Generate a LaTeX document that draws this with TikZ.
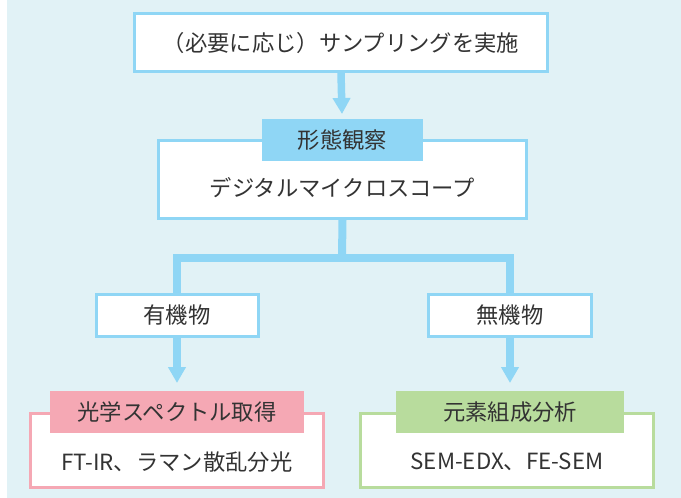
\documentclass[tikz,border=0pt]{standalone}
\usepackage{fontspec}
\setmainfont{Noto Sans CJK JP}
\usetikzlibrary{arrows.meta}
\definecolor{bgc}{HTML}{E1F2F6}
\definecolor{bluec}{HTML}{8FD6F5}
\definecolor{pinkc}{HTML}{F5A8B4}
\definecolor{greenc}{HTML}{B8DC9D}
\definecolor{txtc}{HTML}{333333}
\tikzset{
  box/.style={draw=#1, line width=3pt, fill=white, inner sep=0pt, rectangle},
  tag/.style={fill=#1, inner sep=0pt, rectangle, font=\fontsize{22.3}{25}\selectfont, text=txtc},
  txt/.style={inner sep=0pt, font=\fontsize{22.3}{25}\selectfont, text=txtc},
  conn/.style={draw=bluec, line width=8pt},
  arr/.style={draw=bluec, line width=7.5pt, -{Triangle[width=17pt,length=16pt]}},
}
\begin{document}
\begin{tikzpicture}[x=1pt,y=-1pt]
\useasboundingbox (0,0) rectangle (681,498);
\fill[bgc] (7,0) rectangle (681,498);
% top
\node[box=bluec, minimum width=413pt, minimum height=58pt] (top) at (341,42.5) {};
\node[txt] (toptext) at (341,43) {（必要に応じ）サンプリングを実施};
% main
\node[box=bluec, minimum width=368pt, minimum height=78pt] (main) at (342.5,179.5) {};
\node[tag=bluec, minimum width=161pt, minimum height=42pt] (maintag) at (342.5,140) {形態観察};
\node[txt] (maintext) at (342.5,188) {デジタルマイクロスコープ};
\coordinate (tip0) at (342,114);
\draw[arr] (top.south) -- (tip0);
% branch
\node[box=bluec, minimum width=162pt, minimum height=42pt] (yuki) at (177,315) {};
\node[box=bluec, minimum width=163pt, minimum height=42pt] (muki) at (510,315) {};
\node[txt] (yukitext) at (yuki) {有機物};
\node[txt] (mukitext) at (muki) {無機物};
\coordinate (junc) at (342,257.5);
\draw[conn] (main.south) -- (junc);
\draw[conn] (yuki.north) |- (junc) -| (muki.north);
% bottom
\node[box=pinkc, minimum width=293pt, minimum height=74pt] (pbox) at (177,450.5) {};
\node[tag=pinkc, minimum width=254pt, minimum height=42pt] (ptag) at (177,412) {光学スペクトル取得};
\node[txt] (ptext) at (177,462) {FT-IR、ラマン散乱分光};
\node[box=greenc, minimum width=293pt, minimum height=74pt] (gbox) at (507,450.5) {};
\node[tag=greenc, minimum width=228pt, minimum height=42pt] (gtag) at (510,412) {元素組成分析};
\node[txt] (gtext) at (507,462) {SEM-EDX、FE-SEM};
\coordinate (tip1) at (177,383);
\coordinate (tip2) at (510,383);
\draw[arr] (yuki.south) -- (tip1);
\draw[arr] (muki.south) -- (tip2);
\end{tikzpicture}
\end{document}
